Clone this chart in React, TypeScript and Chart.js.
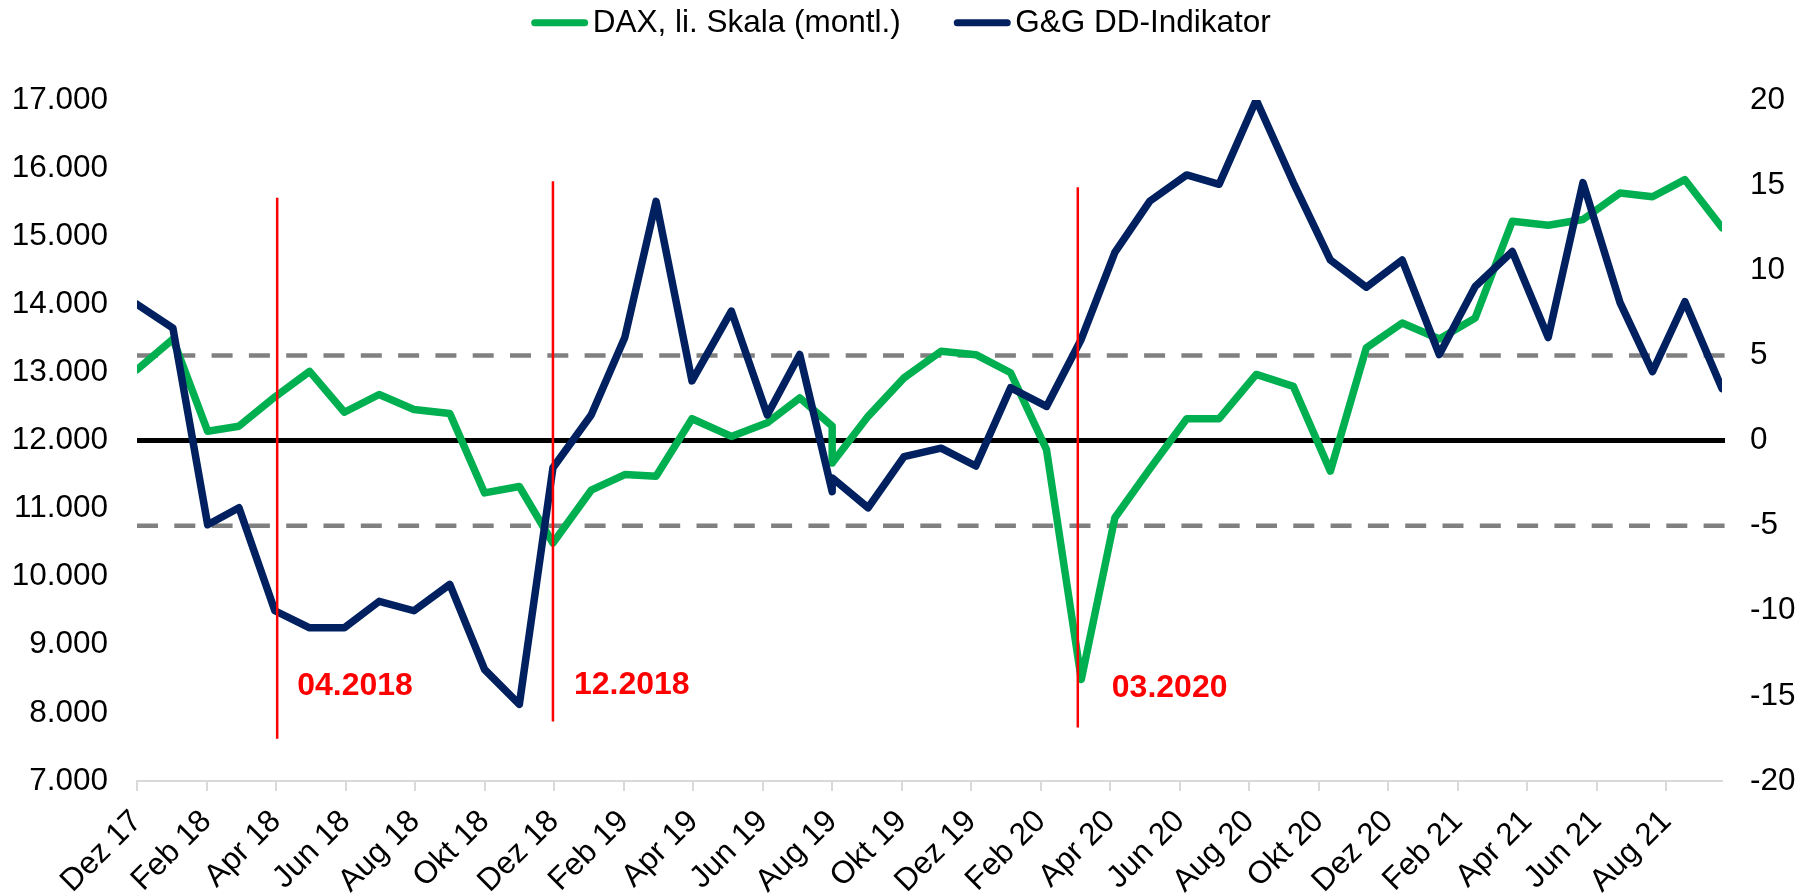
import React, { useEffect, useRef } from 'react';
import { Chart, registerables } from 'chart.js';

Chart.register(...registerables);

// ---------- data ----------
const startDate = '2017-12-29';

const dates = [
  '2017-12-29', '2018-01-29', '2018-02-28', '2018-03-27', '2018-04-27', '2018-05-27',
  '2018-06-26', '2018-07-26', '2018-08-25', '2018-09-25', '2018-10-25', '2018-11-24',
  '2018-12-23', '2019-01-25', '2019-02-23', '2019-03-22', '2019-04-22', '2019-05-26',
  '2019-06-26', '2019-07-24', '2019-08-21', '2019-08-21', '2019-09-21', '2019-10-22',
  '2019-11-23', '2019-12-23', '2020-01-22', '2020-02-22', '2020-03-23', '2020-04-21',
  '2020-05-21', '2020-06-22', '2020-07-20', '2020-08-21', '2020-09-22', '2020-10-24',
  '2020-11-24', '2020-12-25', '2021-01-26', '2021-02-26', '2021-03-30', '2021-04-30',
  '2021-05-30', '2021-07-01', '2021-07-29', '2021-08-26', '2021-09-27',
];

const daxValues = [
  13040, 13490, 12135, 12210, 12640, 13015,
  12415, 12675, 12455, 12395, 11230, 11325,
  10495, 11270, 11500, 11475, 12320, 12060,
  12260, 12625, 12210, 11670, 12355, 12920,
  13310, 13260, 12995, 11865, 8490, 10865,
  11580, 12320, 12320, 12970, 12795, 11550,
  13360, 13725, 13490, 13800, 15220, 15160,
  15245, 15635, 15580, 15830, 15125,
];

const ddIndicator = [
  8.0, 6.6, -4.95, -3.95, -10.0, -11.0,
  -11.0, -9.45, -10.0, -8.45, -13.45, -15.5,
  -1.6, 1.5, 6.05, 14.05, 3.5, 7.6,
  1.5, 5.05, -3.0, -2.2, -3.95, -0.95,
  -0.45, -1.5, 3.1, 2.0, 5.95, 11.05,
  14.05, 15.6, 15.05, 20.0, 15.15, 10.6,
  9.0, 10.6, 5.05, 9.05, 11.1, 6.05,
  15.15, 8.1, 4.05, 8.15, 3.05,
];

const tickLabels = [
  'Dez 17', 'Feb 18', 'Apr 18', 'Jun 18', 'Aug 18', 'Okt 18', 'Dez 18',
  'Feb 19', 'Apr 19', 'Jun 19', 'Aug 19', 'Okt 19', 'Dez 19',
  'Feb 20', 'Apr 20', 'Jun 20', 'Aug 20', 'Okt 20', 'Dez 20',
  'Feb 21', 'Apr 21', 'Jun 21', 'Aug 21',
];
const tickStepDays = 60;

const seriesNames = ['DAX, li. Skala (montl.)', 'G&G DD-Indikator'];

const zeroLevel = 0;
const bandLevels = [5, -5];

const markerDates = ['2018-04-29', '2018-12-23', '2020-03-20'];
const markerLabels = ['04.2018', '12.2018', '03.2020'];
const markerTops = [15563, 15807, 15719];
const markerBottoms = [7621, 7875, 7787];
const markerLabelValues = [8390, 8400, 8370];

// ---------- helpers ----------
const DAY = 86400000;
const dayOf = (d: string) => Math.round((Date.parse(d) - Date.parse(startDate)) / DAY);
const lastDay = dayOf(dates[dates.length - 1]);
const fmtThousands = (v: number) => String(Math.round(v)).replace(/\B(?=(\d{3})+(?!\d))/g, '.');

const FONT = "'Liberation Sans', Arial, Helvetica, sans-serif";
const GREEN = '#00B050';
const NAVY = '#002060';

// ---------- plugins ----------
const refLinesPlugin = {
  id: 'refLines',
  beforeDatasetsDraw(chart: any) {
    const { ctx, chartArea } = chart;
    const ys = chart.scales.y1;
    ctx.save();
    ctx.lineCap = 'butt';
    ctx.setLineDash([21, 16.3]);
    ctx.lineWidth = 4.5;
    ctx.strokeStyle = '#808080';
    for (const lv of bandLevels) {
      const y = ys.getPixelForValue(lv);
      ctx.beginPath();
      ctx.moveTo(chartArea.left, y);
      ctx.lineTo(chartArea.right + 5, y);
      ctx.stroke();
    }
    ctx.setLineDash([]);
    ctx.lineWidth = 5;
    ctx.strokeStyle = '#000000';
    const yz = ys.getPixelForValue(zeroLevel);
    ctx.beginPath();
    ctx.moveTo(chartArea.left, yz);
    ctx.lineTo(chartArea.right + 3, yz);
    ctx.stroke();
    ctx.restore();
  },
};

const markersPlugin = {
  id: 'markers',
  afterDatasetsDraw(chart: any, _args: any, opts: any) {
    const { ctx } = chart;
    const xs = chart.scales.x;
    const ys = chart.scales.y;
    ctx.save();
    ctx.strokeStyle = '#FF0000';
    ctx.fillStyle = '#FF0000';
    ctx.lineWidth = opts.lineWidth;
    ctx.font = `bold ${opts.fontSize}px ${FONT}`;
    ctx.textAlign = 'left';
    ctx.textBaseline = 'middle';
    markerDates.forEach((d, i) => {
      const x = xs.getPixelForValue(dayOf(d));
      ctx.beginPath();
      ctx.moveTo(x, ys.getPixelForValue(markerTops[i]));
      ctx.lineTo(x, ys.getPixelForValue(markerBottoms[i]));
      ctx.stroke();
      ctx.fillText(markerLabels[i], x + opts.labelDx[i], ys.getPixelForValue(markerLabelValues[i]));
    });
    ctx.restore();
  },
};

const lineLegendPlugin = {
  id: 'lineLegend',
  afterDraw(chart: any, _args: any, opts: any) {
    const { ctx } = chart;
    ctx.save();
    ctx.font = `${opts.fontSize}px ${FONT}`;
    const items = chart.data.datasets.map((ds: any) => ({
      text: ds.label as string,
      color: ds.borderColor as string,
      w: ctx.measureText(ds.label).width,
    }));
    const total =
      items.reduce((s: number, it: any) => s + opts.lineLength + opts.gap + it.w, 0) +
      opts.itemGap * (items.length - 1);
    let x = opts.centerX - total / 2;
    for (const it of items) {
      const cap = opts.lineWidth / 2;
      ctx.beginPath();
      ctx.lineCap = 'round';
      ctx.lineWidth = opts.lineWidth;
      ctx.strokeStyle = it.color;
      ctx.moveTo(x + cap, opts.lineY);
      ctx.lineTo(x + opts.lineLength - cap, opts.lineY);
      ctx.stroke();
      ctx.fillStyle = '#000000';
      ctx.textAlign = 'left';
      ctx.textBaseline = 'alphabetic';
      ctx.fillText(it.text, x + opts.lineLength + opts.gap, opts.textBaselineY);
      x += opts.lineLength + opts.gap + it.w + opts.itemGap;
    }
    ctx.restore();
  },
};

export default function App() {
  const ref = useRef<HTMLCanvasElement | null>(null);

  useEffect(() => {
    document.body.style.margin = '0';
    const canvas = ref.current;
    if (!canvas) return;

    const tickFont = { family: FONT, size: 31.5 };

    const chart = new Chart(canvas, {
      type: 'line',
      data: {
        datasets: [
          {
            label: seriesNames[0],
            data: daxValues.map((v, i) => ({ x: dayOf(dates[i]), y: v })),
            yAxisID: 'y',
            borderColor: GREEN,
            backgroundColor: GREEN,
            borderWidth: 7.5,
            pointRadius: 0,
            tension: 0,
            borderJoinStyle: 'round',
            borderCapStyle: 'round',
            order: 2,
          },
          {
            label: seriesNames[1],
            data: ddIndicator.map((v, i) => ({ x: dayOf(dates[i]), y: v })),
            yAxisID: 'y1',
            borderColor: NAVY,
            backgroundColor: NAVY,
            borderWidth: 7.5,
            pointRadius: 0,
            tension: 0,
            borderJoinStyle: 'round',
            borderCapStyle: 'round',
            order: 1,
          },
        ],
      },
      options: {
        responsive: false,
        animation: false,
        devicePixelRatio: 1,
        layout: { padding: { top: 100, left: 0, right: 0, bottom: 0 } },
        plugins: {
          legend: { display: false },
          tooltip: { enabled: false },
          lineLegend: {
            fontSize: 31.5,
            centerX: 901,
            lineY: 22.7,
            textBaselineY: 31.7,
            lineLength: 57,
            lineWidth: 7,
            gap: 4.5,
            itemGap: 53,
          },
          markers: { lineWidth: 2.5, fontSize: 32, labelDx: [20, 21, 34] },
        } as any,
        scales: {
          x: {
            type: 'linear',
            min: 0,
            max: lastDay,
            afterBuildTicks: (s: any) => {
              s.ticks = tickLabels.map((_, i) => ({ value: i * tickStepDays }));
            },
            afterFit: (s: any) => {
              s.height = 113;
            },
            ticks: {
              autoSkip: false,
              maxRotation: 45,
              minRotation: 45,
              padding: 12,
              color: '#000000',
              font: tickFont,
              callback: (_v: any, i: number) => tickLabels[i],
            },
            grid: {
              display: true,
              drawOnChartArea: false,
              drawTicks: true,
              tickLength: 10,
              color: '#D9D9D9',
              lineWidth: 2,
            },
            border: { display: true, color: '#D9D9D9', width: 2 },
          },
          y: {
            type: 'linear',
            position: 'left',
            min: 7000,
            max: 17000,
            afterFit: (s: any) => {
              s.width = 137;
            },
            ticks: {
              stepSize: 1000,
              padding: 29,
              color: '#000000',
              font: tickFont,
              callback: (v: any) => fmtThousands(Number(v)),
            },
            grid: { display: false, drawTicks: false },
            border: { display: false },
          },
          y1: {
            type: 'linear',
            position: 'right',
            min: -20,
            max: 20,
            afterFit: (s: any) => {
              s.width = 88;
            },
            ticks: {
              stepSize: 5,
              padding: 28,
              color: '#000000',
              font: tickFont,
            },
            grid: { display: false, drawTicks: false },
            border: { display: false },
          },
        },
      } as any,
      plugins: [refLinesPlugin, markersPlugin, lineLegendPlugin],
    });

    return () => chart.destroy();
  }, []);

  return (
    <div style={{ width: 1810, height: 894 }}>
      <canvas ref={ref} width={1810} height={894} style={{ display: 'block' }} />
    </div>
  );
}
